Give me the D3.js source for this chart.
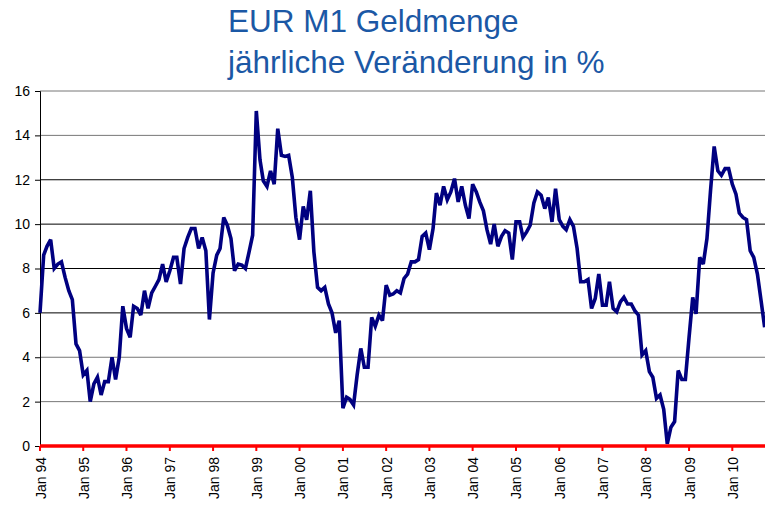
<!DOCTYPE html>
<html>
<head>
<meta charset="utf-8">
<script src="https://cdn.jsdelivr.net/npm/d3@7"></script>
<style>
  html, body { margin: 0; padding: 0; background: #fff; }
  svg { display: block; font-family: "Liberation Sans", Arial, sans-serif; }
</style>
</head>
<body>
<svg id="chart" width="765" height="505"></svg>
<script>
// ---- Data ----
const titleLines = ["EUR M1 Geldmenge", "jährliche Veränderung in %"];
const firstMonth = "1994-01";
// monthly y/y growth of EUR M1, Jan 1994 .. Oct 2010
const m1_1994 = [6.0, 8.6, 9.0, 9.3, 8.0, 8.2, 8.3, 7.6, 7.0, 6.6, 4.6, 4.3];
const m1_1995 = [3.2, 3.4, 2.0, 2.8, 3.1, 2.3, 2.9, 2.9, 4.0, 3.0, 4.0, 6.3];
const m1_1996 = [5.3, 4.9, 6.3, 6.2, 5.9, 7.0, 6.2, 6.9, 7.2, 7.5, 8.2, 7.4];
const m1_1997 = [7.9, 8.5, 8.5, 7.3, 8.9, 9.4, 9.8, 9.8, 8.9, 9.4, 8.8, 5.7];
const m1_1998 = [7.8, 8.6, 8.9, 10.3, 9.95, 9.35, 7.9, 8.2, 8.15, 8.0, 8.75, 9.5];
const m1_1999 = [15.1, 12.9, 11.95, 11.7, 12.4, 11.8, 14.3, 13.1, 13.05, 13.1, 12.1, 10.3];
const m1_2000 = [9.3, 10.8, 10.2, 11.5, 8.75, 7.15, 7.0, 7.15, 6.4, 6.0, 5.1, 5.65];
const m1_2001 = [1.7, 2.2, 2.1, 1.85, 3.2, 4.4, 3.55, 3.55, 5.8, 5.4, 5.9, 5.65];
const m1_2002 = [7.25, 6.8, 6.85, 7.0, 6.9, 7.55, 7.75, 8.3, 8.3, 8.4, 9.45, 9.6];
const m1_2003 = [8.85, 9.8, 11.4, 10.85, 11.7, 11.1, 11.45, 12.05, 11.0, 11.7, 10.85, 10.25];
const m1_2004 = [11.8, 11.45, 11.0, 10.6, 9.75, 9.1, 10.0, 9.0, 9.45, 9.7, 9.6, 8.4];
const m1_2005 = [10.1, 10.1, 9.4, 9.65, 9.95, 10.95, 11.45, 11.3, 10.7, 11.2, 10.1, 11.6];
const m1_2006 = [10.2, 9.9, 9.75, 10.2, 9.9, 8.9, 7.4, 7.4, 7.5, 6.2, 6.65, 7.75];
const m1_2007 = [6.35, 6.35, 7.4, 6.2, 6.05, 6.5, 6.7, 6.4, 6.4, 6.1, 5.9, 4.1];
const m1_2008 = [4.3, 3.35, 3.1, 2.15, 2.3, 1.65, 0.1, 0.85, 1.1, 3.4, 3.0, 3.0];
const m1_2009 = [4.9, 6.7, 5.95, 8.5, 8.2, 9.35, 11.5, 13.5, 12.4, 12.2, 12.5, 12.5];
const m1_2010 = [11.8, 11.35, 10.5, 10.3, 10.2, 8.8, 8.5, 7.75, 6.55, 5.35];

const yTicks = [0, 2, 4, 6, 8, 10, 12, 14, 16];
const xTickYears = d3.range(1994, 2011);

// ---- Build ----
const values = [].concat(m1_1994, m1_1995, m1_1996, m1_1997, m1_1998, m1_1999,
  m1_2000, m1_2001, m1_2002, m1_2003, m1_2004, m1_2005, m1_2006, m1_2007,
  m1_2008, m1_2009, m1_2010);
const start = d3.timeParse("%Y-%m")(firstMonth);
const data = values.map((v, i) => ({ date: d3.timeMonth.offset(start, i), value: v }));

const svg = d3.select("#chart");
const plotL = 40, plotT = 91, plotB = 446, plotR = 765;

const x = d3.scaleTime()
  .domain([new Date(1994, 0, 1), new Date(2010, 0, 1)])
  .range([plotL, 732.3]);
const y = d3.scaleLinear().domain([0, 16]).range([plotB, plotT]);

// Title
const titleColor = "#1b58a5";
svg.append("g").selectAll("text").data(titleLines).join("text")
  .attr("x", 228)
  .attr("y", (d, i) => 32 + i * 41)
  .attr("fill", titleColor)
  .attr("font-size", 31.5)
  .text(d => d);

// Gridlines
svg.append("g").selectAll("line").data(yTicks.filter(d => d > 0)).join("line")
  .attr("x1", plotL).attr("x2", plotR)
  .attr("y1", d => y(d)).attr("y2", d => y(d))
  .attr("stroke", d => (d >= 14 || d <= 4) ? "#777" : "#000")
  .attr("stroke-width", 1);

// Y axis
const yAxis = svg.append("g")
  .attr("transform", `translate(${plotL},0)`)
  .call(d3.axisLeft(y).tickValues(yTicks).tickSize(5).tickPadding(5).tickFormat(d3.format("d")));
yAxis.select(".domain").attr("stroke", "#000").attr("stroke-width", 1);
yAxis.selectAll(".tick line").attr("stroke", "#000");
yAxis.selectAll("text").attr("font-size", 14).attr("fill", "#000")
  .attr("font-family", "'Liberation Sans', Arial, sans-serif");

// Data line
const line = d3.line().x(d => x(d.date)).y(d => y(d.value));
svg.append("path")
  .datum(data)
  .attr("d", line)
  .attr("fill", "none")
  .attr("stroke", "#000080")
  .attr("stroke-width", 3.6)
  .attr("stroke-linejoin", "miter")
  .attr("stroke-miterlimit", 3);

// X axis (red)
const xAxisG = svg.append("g");
xAxisG.append("line")
  .attr("x1", plotL).attr("x2", plotR)
  .attr("y1", plotB).attr("y2", plotB)
  .attr("stroke", "#ff0000").attr("stroke-width", 3.5);
const fmt = d3.timeFormat("%b %y");
const ticks = xAxisG.selectAll("g.xt").data(xTickYears.map(yr => new Date(yr, 0, 1))).join("g")
  .attr("class", "xt")
  .attr("transform", d => `translate(${x(d)},0)`);
ticks.append("line")
  .attr("x1", 0).attr("x2", 0)
  .attr("y1", plotB).attr("y2", plotB + 5)
  .attr("stroke", "#ff0000").attr("stroke-width", 2);
ticks.append("text")
  .attr("transform", `translate(5.5,${plotB + 11}) rotate(-90)`)
  .attr("text-anchor", "end")
  .attr("font-size", 14)
  .attr("fill", "#000")
  .text(d => fmt(d));
</script>
</body>
</html>
